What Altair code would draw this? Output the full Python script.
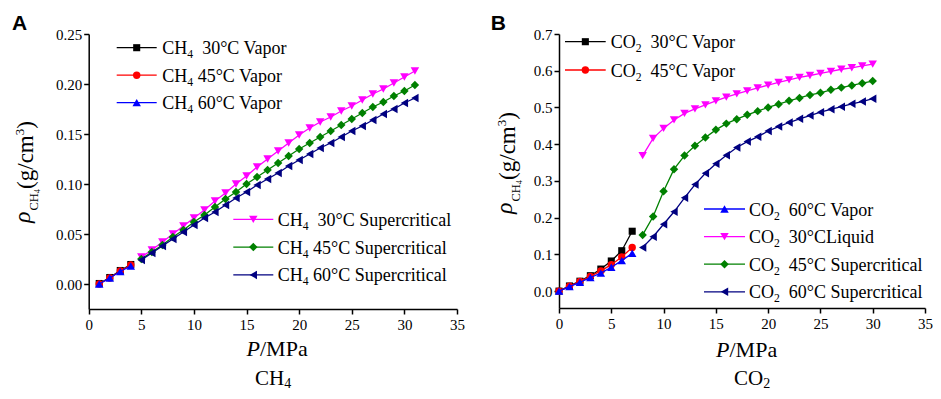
import altair as alt
import pandas as pd

SERIF = "Liberation Serif, Times New Roman, serif"
SANS = "Liberation Sans, Arial, sans-serif"

# ---------------- Panel A : CH4 ----------------
A_vap_P = [1, 2, 3, 4]
A_vap_30 = [0.0005, 0.0065, 0.0135, 0.0195]
A_vap_45 = [0.0, 0.006, 0.013, 0.019]
A_vap_60 = [0.0, 0.006, 0.0125, 0.018]
A_sc_P = list(range(5, 32))
A_sc_30 = [0.027, 0.034, 0.042, 0.050, 0.058, 0.066, 0.074, 0.083, 0.091, 0.100,
           0.108, 0.117, 0.125, 0.133, 0.141, 0.149, 0.156, 0.162, 0.167, 0.173,
           0.178, 0.184, 0.190, 0.195, 0.201, 0.207, 0.213]
A_sc_45 = [0.025, 0.032, 0.039, 0.047, 0.054, 0.062, 0.069, 0.077, 0.085, 0.092,
           0.100, 0.107, 0.114, 0.121, 0.128, 0.135, 0.141, 0.147, 0.153, 0.159,
           0.165, 0.171, 0.177, 0.182, 0.188, 0.193, 0.199]
A_sc_60 = [0.024, 0.031, 0.038, 0.045, 0.052, 0.059, 0.066, 0.072, 0.079, 0.086,
           0.092, 0.099, 0.105, 0.111, 0.118, 0.124, 0.130, 0.136, 0.141, 0.147,
           0.153, 0.158, 0.164, 0.170, 0.175, 0.181, 0.186]
A_names = ["30°C Vapor", "45°C Vapor", "60°C Vapor",
           "30°C Supercritical", "45°C Supercritical", "60°C Supercritical"]
A_gaps = [2, 1, 1, 2, 1, 1]

# ---------------- Panel B : CO2 ----------------
B_vap_P = [0, 1, 2, 3, 4, 5, 6, 7]
B_vap_30 = [0.0, 0.014, 0.027, 0.042, 0.060, 0.082, 0.110, 0.163]
B_vap_45 = [0.0, 0.013, 0.026, 0.040, 0.055, 0.072, 0.093, 0.119]
B_vap_60 = [0.0, 0.012, 0.024, 0.037, 0.049, 0.065, 0.083, 0.103]
B_hi_P = list(range(8, 31))
B_liq_30 = [0.369, 0.416, 0.443, 0.466, 0.484, 0.496, 0.507, 0.518, 0.528, 0.537,
            0.545, 0.553, 0.561, 0.568, 0.575, 0.582, 0.587, 0.593, 0.598, 0.604,
            0.608, 0.613, 0.618]
B_sc_45 = [0.153, 0.203, 0.272, 0.332, 0.369, 0.396, 0.418, 0.439, 0.456, 0.468,
           0.480, 0.490, 0.500, 0.509, 0.518, 0.526, 0.534, 0.540, 0.548, 0.554,
           0.560, 0.566, 0.572]
B_sc_60 = [0.119, 0.148, 0.182, 0.216, 0.254, 0.290, 0.321, 0.347, 0.370, 0.391,
           0.407, 0.420, 0.436, 0.448, 0.459, 0.469, 0.478, 0.487, 0.495, 0.502,
           0.510, 0.516, 0.524]
B_names = ["30°C Vapor", "45°C Vapor", "60°C Vapor",
           "30°CLiquid", "45°C Supercritical", "60°C Supercritical"]
B_gaps = [2, 2, 2, 2, 2, 2]

x_ticks = [0, 5, 10, 15, 20, 25, 30, 35]
A_y_ticks = [0.0, 0.05, 0.10, 0.15, 0.20, 0.25]
B_y_ticks = [0.0, 0.1, 0.2, 0.3, 0.4, 0.5, 0.6, 0.7]

COLORS = ["#000000", "#ff0000", "#0000ff", "#ff00ff", "#008000", "#000080"]
SHAPES = ["square", "circle", "triangle-up", "triangle-down", "diamond", "triangle-left"]
SIZES = [50, 55, 72, 72, 72, 72]

W, H = 925, 383          # whole drawing (page minus 8px margins)
M = 8                     # page margin; page coords -> svg coords

ONE = pd.DataFrame({"k": [0]})
WID = {"C": 0.667, "H": 0.722, "O": 0.722}


def text_layer(txt, x, y, size, font=SERIF, style="normal", weight="normal",
               align="left", baseline="alphabetic", angle=None):
    kw = dict(text=txt, font=font, fontSize=size, fontStyle=style, fontWeight=weight,
              align=align, baseline=baseline, color="black")
    if angle is not None:
        kw["angle"] = angle
    return alt.Chart(ONE).mark_text(**kw).encode(x=alt.value(x - M), y=alt.value(y - M))


def legend_entry(prefix, sub, gap, name, i, x0, x1, xt, y, fs=18):
    out = [
        alt.Chart(ONE).mark_rule(color=COLORS[i], strokeWidth=1.3).encode(
            x=alt.value(x0 - M), x2=alt.value(x1 - M), y=alt.value(y - M)),
        alt.Chart(ONE).mark_point(shape=SHAPES[i], filled=True, color=COLORS[i],
                                  size=SIZES[i], opacity=1).encode(
            x=alt.value((x0 + x1) / 2 - M), y=alt.value(y - M)),
    ]
    by = y + 6.5
    wp = sum(WID[c] for c in prefix) * fs
    out.append(text_layer(prefix, xt, by, fs))
    out.append(text_layer(sub, xt + wp, by + 4, fs * 0.65))
    out.append(text_layer(name, xt + wp + 0.5 * 0.65 * fs + gap * 0.25 * fs, by, fs))
    return out


def ytitle(base_x, y0):
    pieces = [("ρ", 24, "italic", -3, 0.52),
              ("CH", 12.5, "normal", 4.5, 1.389),
              ("4", 8.5, "normal", 6.5, 0.5),
              ("(g/cm", 23, "normal", 0, 2.333),
              ("3", 13, "normal", -9.5, 0.5),
              (")", 23, "normal", 0, 0.333)]
    out = []
    y = y0
    for t, s, st, dx, adv in pieces:
        out.append(text_layer(t, base_x + dx, y, s, style=st, angle=270))
        y -= adv * s
    return out


def panel(series, P_lists, xrange_px, yrange_px, ydom, yticks, yfmt, prefix, sub,
          names, gaps, top_rows, top_geo, bot_rows, bot_geo, letter_xy, title_xy,
          xtitle_xy, label_xy):
    L, R = xrange_px
    B, T = yrange_px
    xenc = alt.X("P:Q",
                 scale=alt.Scale(domain=[0, 35], nice=False, zero=False,
                                 range=[L - M, R - M]),
                 axis=alt.Axis(values=x_ticks, title=None, format="d", orient="bottom",
                               offset=-(H - (B - M)), labelFlush=False))
    yenc = alt.Y("rho:Q",
                 scale=alt.Scale(domain=ydom, nice=False, zero=False,
                                 range=[B - M, T - M]),
                 axis=alt.Axis(values=yticks, title=None, format=yfmt, orient="left",
                               offset=-(L - M), labelFlush=False))
    layers = []
    for i, (P, rho) in enumerate(zip(P_lists, series)):
        df = pd.DataFrame({"P": P, "rho": rho})
        base = alt.Chart(df)
        layers.append(base.mark_line(color=COLORS[i], strokeWidth=1.3).encode(x=xenc, y=yenc))
        layers.append(base.mark_point(shape=SHAPES[i], filled=True, color=COLORS[i],
                                      size=SIZES[i], opacity=1).encode(x=xenc, y=yenc))
    x0, x1, xt, ytop, dy = top_geo
    for k, i in enumerate(top_rows):
        layers += legend_entry(prefix, sub, gaps[i], names[i], i, x0, x1, xt, ytop + k * dy)
    x0, x1, xt, ytop, dy = bot_geo
    for k, i in enumerate(bot_rows):
        layers += legend_entry(prefix, sub, gaps[i], names[i], i, x0, x1, xt, ytop + k * dy)
    # panel letter
    layers.append(text_layer(letter_xy[0], letter_xy[1], letter_xy[2], 21,
                             font=SANS, weight="bold"))
    # y title
    layers += ytitle(*title_xy)
    # x title  P/MPa
    cx, cy = xtitle_xy
    layers.append(text_layer("P", cx, cy, 22, style="italic", align="right"))
    layers.append(text_layer("/MPa", cx, cy, 22))
    # bottom label (species)
    lx, ly = label_xy
    wp = sum(WID[c] for c in prefix) * 21
    sx = lx - (wp + 0.65 * 21 * 0.5) / 2
    layers.append(text_layer(prefix, sx, ly, 21))
    layers.append(text_layer(sub, sx + wp, ly + 3, 14))
    return alt.layer(*layers)


pA = panel([A_vap_30, A_vap_45, A_vap_60, A_sc_30, A_sc_45, A_sc_60],
           [A_vap_P, A_vap_P, A_vap_P, A_sc_P, A_sc_P, A_sc_P],
           (88.7, 457), (309, 34), [-0.025, 0.25], A_y_ticks, ".2f", "CH", "4",
           A_names, A_gaps,
           [0, 1, 2], (116.7, 156.7, 162.3, 47.7, 27.5),
           [3, 4, 5], (233.3, 273.3, 277.7, 219.3, 27.8),
           ("A", 12, 30), (33, 223), (260, 356), (273, 385))

pB = panel([B_vap_30, B_vap_45, B_vap_60, B_liq_30, B_sc_45, B_sc_60],
           [B_vap_P, B_vap_P, B_vap_P, B_hi_P, B_hi_P, B_hi_P],
           (559, 925), (308, 34), [-0.046, 0.7], B_y_ticks, ".1f", "CO", "2",
           B_names, B_gaps,
           [0, 1], (565, 605.7, 610.7, 41.7, 28.3),
           [2, 3, 4, 5], (704, 745, 749, 209, 27.6),
           ("B", 490.7, 30), (515, 214), (729.5, 357), (752, 385))

chart = alt.layer(pA, pB).resolve_scale(x="independent", y="independent").properties(
    width=W, height=H, autosize=alt.AutoSizeParams(type="none"), padding=0
).configure_view(stroke=None).configure_axis(
    domainColor="black", domainWidth=1.5, tickColor="black", tickWidth=1.5,
    tickSize=5, labelFont=SERIF, labelFontSize=15, labelColor="black", grid=False,
    labelOverlap=False
).configure_axisX(labelPadding=3).configure_axisY(labelPadding=2)

chart.save("out.html", embed_options={"renderer": "svg", "actions": False})
